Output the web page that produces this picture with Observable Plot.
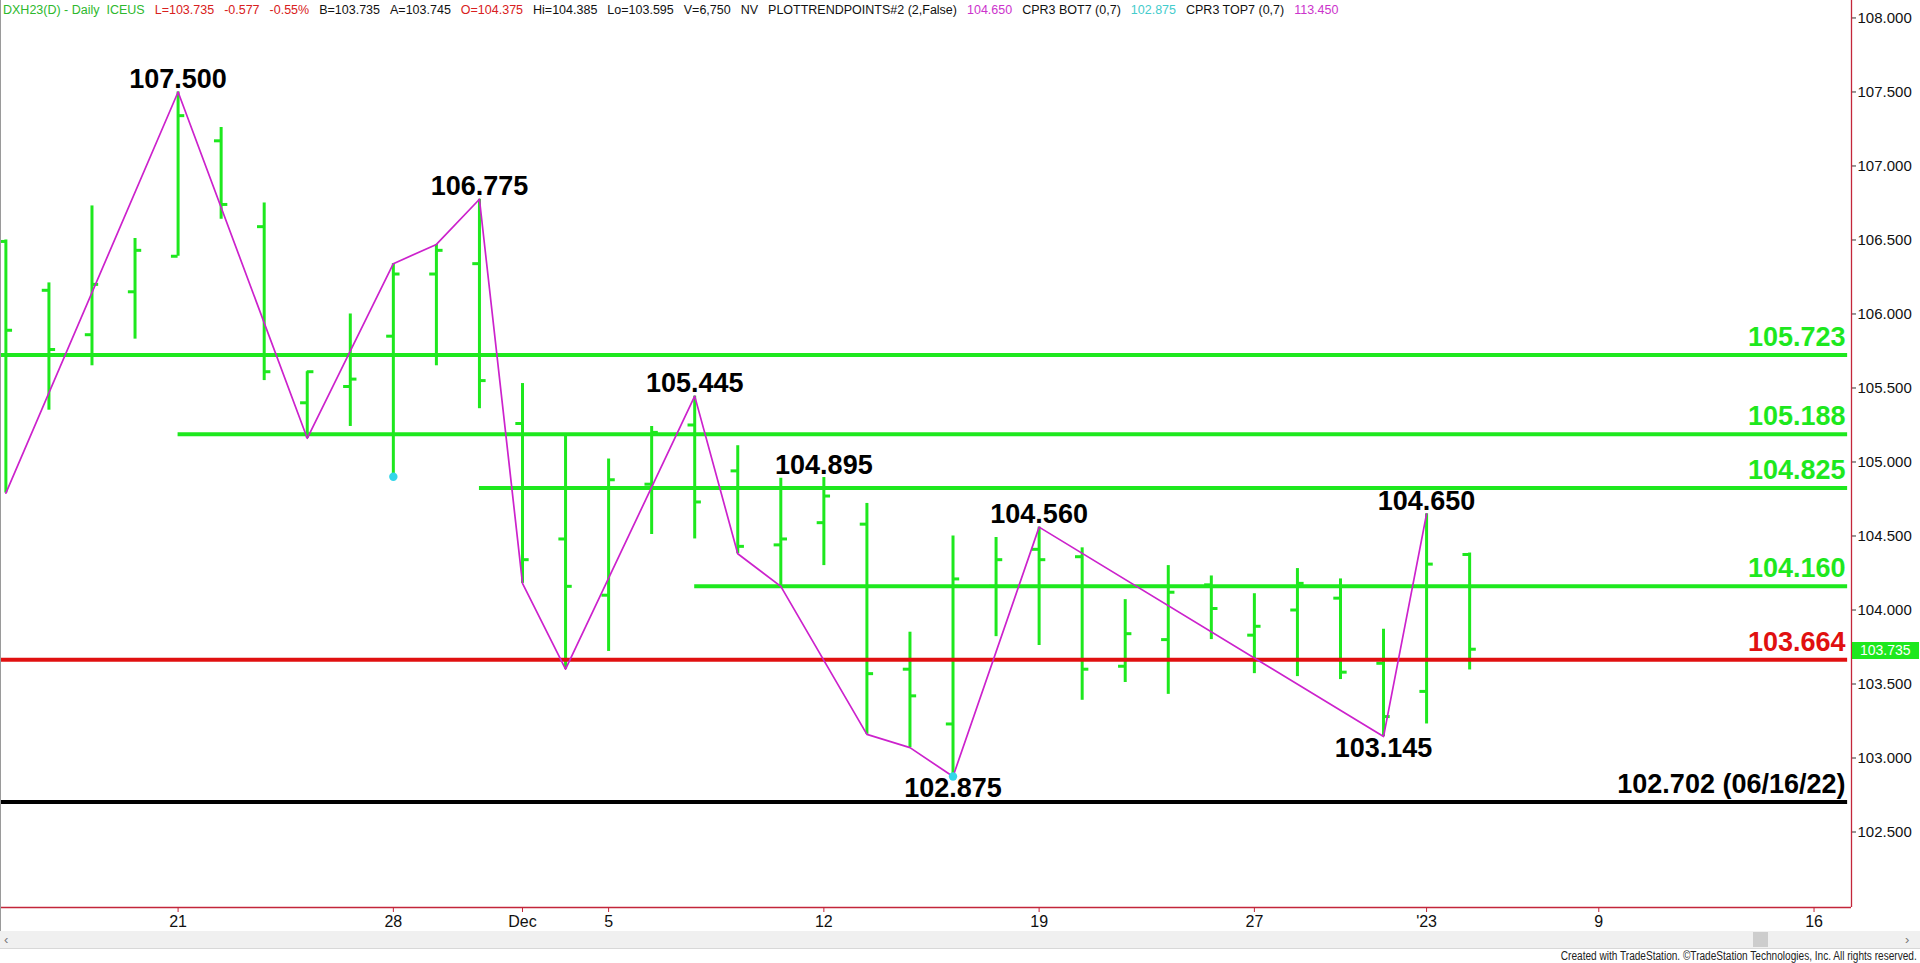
<!DOCTYPE html>
<html>
<head>
<meta charset="utf-8">
<script src="https://cdn.jsdelivr.net/npm/d3@7"></script>
<script src="https://cdn.jsdelivr.net/npm/@observablehq/plot@0.6"></script>
<style>
  html, body { margin: 0; padding: 0; background: #fff; overflow: hidden; }
  #wrap { position: relative; width: 1920px; height: 963px; font-family: Arial, "Liberation Sans", sans-serif; }
  #wrap svg { position: absolute; left: 0; top: 0; }
  #hdr { position: absolute; left: 3px; top: 3px; display: flex; gap: 10px; font-size: 12.5px; line-height: 14px; white-space: pre; }
  #scroll { position: absolute; left: 0; top: 931px; width: 1920px; height: 17px; background: #f0f0f0; border-bottom: 1px solid #d8d8d8; }
  #thumb { position: absolute; top: 1px; height: 15px; background: #cdcdcd; }
  .arrow { position: absolute; top: 0px; font-size: 13px; color: #777; line-height: 17px; }
  #foot { position: absolute; right: 3px; top: 950px; font-size: 12px; line-height: 13px; color: #222; white-space: nowrap; transform: scaleX(0.84); transform-origin: right center; }
  #leftborder { position: absolute; left: 0; top: 0; width: 1px; height: 949px; background: #9a9a9a; }
  #lasttag { position: absolute; color: #fff; background: #1ee81e; font-size: 14px; line-height: 17px; height: 17px; padding-left: 8px; box-sizing: border-box; }
</style>
</head>
<body>
<div id="wrap"></div>
<script>
// ---------------- DATA ----------------
const dates = ["2022-11-15","2022-11-16","2022-11-17","2022-11-18","2022-11-21","2022-11-22","2022-11-23","2022-11-24","2022-11-25","2022-11-28","2022-11-29","2022-11-30","2022-12-01","2022-12-02","2022-12-05","2022-12-06","2022-12-07","2022-12-08","2022-12-09","2022-12-12","2022-12-13","2022-12-14","2022-12-15","2022-12-16","2022-12-19","2022-12-20","2022-12-21","2022-12-22","2022-12-23","2022-12-27","2022-12-28","2022-12-29","2022-12-30","2023-01-03","2023-01-04","2023-01-05","2023-01-06","2023-01-09","2023-01-10","2023-01-11","2023-01-12","2023-01-13","2023-01-16","2023-01-17"];

const openP  = [106.49,106.16,105.86,106.15,106.39,107.17,106.59,105.40,105.51,105.85,106.27,106.34,105.26,104.48,104.10,104.85,105.25,104.94,104.44,104.59,104.58,103.60,103.23,104.16,104.41,104.36,103.62,103.80,104.17,103.83,104.00,104.08,103.64,103.45,104.375];
const highP  = [106.50,106.21,106.73,106.51,107.50,107.26,106.75,105.61,106.00,106.34,106.47,106.775,105.53,105.18,105.02,105.24,105.445,105.11,104.89,104.895,104.72,103.85,104.50,104.49,104.56,104.42,104.07,104.30,104.23,104.11,104.28,104.21,103.87,104.65,104.385];
const lowP   = [104.79,105.35,105.65,105.83,106.39,106.64,105.55,105.16,105.24,104.92,105.65,105.36,104.18,103.60,103.72,104.51,104.48,104.38,104.16,104.30,103.16,103.07,102.875,103.82,103.76,103.39,103.51,103.43,103.80,103.57,103.55,103.53,103.145,103.23,103.595];
const closeP = [105.89,105.76,106.20,106.43,107.34,106.74,105.61,105.61,105.56,106.27,106.43,105.55,104.34,104.16,104.88,105.20,104.73,104.43,104.48,104.77,103.57,103.42,104.21,104.34,104.34,103.60,103.84,104.12,104.01,103.89,104.18,103.58,103.28,104.31,103.735];

const xTickDates  = ["2022-11-21","2022-11-28","2022-12-01","2022-12-05","2022-12-12","2022-12-19","2022-12-27","2023-01-03","2023-01-09","2023-01-16"];
const xTickLabels = ["21","28","Dec","5","12","19","27","'23","9","16"];
const yTicks = [102.5,103.0,103.5,104.0,104.5,105.0,105.5,106.0,106.5,107.0,107.5,108.0];

const levelValues = [105.723,105.188,104.825,104.160,103.664,102.702];
const levelLabels = ["105.723","105.188","104.825","104.160","103.664","102.702 (06/16/22)"];
const levelStartDates = [null,"2022-11-21","2022-11-30","2022-12-07",null,null];
const levelKinds = ["level","level","level","level","pivot","priorLow"];

const trendDates  = ["2022-11-15","2022-11-21","2022-11-24","2022-11-28","2022-11-29","2022-11-30","2022-12-01","2022-12-02","2022-12-07","2022-12-08","2022-12-09","2022-12-13","2022-12-14","2022-12-15","2022-12-19","2022-12-30","2023-01-03"];
const trendValues = [104.79,107.50,105.16,106.34,106.47,106.775,104.18,103.60,105.445,104.38,104.16,103.16,103.07,102.875,104.56,103.145,104.65];

const pivotLabelDates  = ["2022-11-21","2022-11-30","2022-12-07","2022-12-12","2022-12-15","2022-12-19","2022-12-30","2023-01-03"];
const pivotLabelValues = [107.500,106.775,105.445,104.895,102.875,104.560,103.145,104.650];
const pivotLabelTypes  = ["high","high","high","high","low","high","low","high"];

const dotDates  = ["2022-11-28","2022-12-15"];
const dotValues = [104.90,102.875];

const headerTexts = ["DXH23(D) - Daily  ICEUS","L=103.735","-0.577","-0.55%","B=103.735","A=103.745","O=104.375","Hi=104.385","Lo=103.595","V=6,750","NV","PLOTTRENDPOINTS#2 (2,False)","104.650","CPR3 BOT7 (0,7)","102.875","CPR3 TOP7 (0,7)","113.450"];
const headerKinds = ["sym","down","down","down","plain","plain","down","plain","plain","plain","plain","plain","trend","plain","cyan","plain","trend"];

// ---------------- STYLE / LAYOUT ----------------
const GREEN = "#1ee81e", RED = "#e01010", BLACK = "#000", MAGENTA = "#cc22cc", CYAN = "#33d6e8", AXIS = "#c3263a";
const kindColor = {level: GREEN, pivot: RED, priorLow: BLACK};
const hdrColor = {sym: "#2db82d", down: "#d82020", plain: "#111", trend: "#cc33cc", cyan: "#44cccc"};
const idx = d => dates.indexOf(d);
const X0 = -0.125, X1 = 42.87;           // visible trading-day window
const Y0 = 101.99, Y1 = 108.118;         // visible price window
const TICK = 0.155;                      // open/close tick length in bars
const fmt = d3.format(".3f");

const bars = openP.map((o, i) => ({i, o, h: highP[i], l: lowP[i], c: closeP[i]}));
const levels = levelValues.map((v, k) => ({v, label: levelLabels[k], start: levelStartDates[k] ? idx(levelStartDates[k]) : X0, color: kindColor[levelKinds[k]]}));
const trend = trendDates.map((d, k) => ({i: idx(d), v: trendValues[k]}));
const pivLabels = pivotLabelDates.map((d, k) => ({i: idx(d), v: pivotLabelValues[k], t: pivotLabelTypes[k]}));
const dots = dotDates.map((d, k) => ({i: idx(d), v: dotValues[k]}));
const xTickIdx = xTickDates.map(idx);

const chart = Plot.plot({
  width: 1920, height: 963,
  marginTop: 0, marginLeft: 0, marginRight: 69, marginBottom: 56,
  x: {type: "linear", domain: [X0, X1]},
  y: {domain: [Y0, Y1]},
  color: {type: "identity"},
  style: {fontFamily: "Arial, 'Liberation Sans', sans-serif", background: "white"},
  marks: [
    // OHLC bars
    Plot.ruleX(bars, {x: "i", y1: "l", y2: "h", stroke: GREEN, strokeWidth: 3}),
    Plot.ruleY(bars, {x1: d => d.i - TICK, x2: "i", y: "o", stroke: GREEN, strokeWidth: 3}),
    Plot.ruleY(bars, {x1: "i", x2: d => d.i + TICK, y: "c", stroke: GREEN, strokeWidth: 3}),
    // horizontal levels
    Plot.ruleY(levels, {y: "v", x1: "start", x2: X1 - 0.09, stroke: "color", strokeWidth: 4}),
    Plot.text(levels, {y: "v", text: "label", frameAnchor: "right", dx: -6, dy: -9, textAnchor: "end", lineAnchor: "bottom", fontSize: 27, fontWeight: "bold", fill: "color"}),
    // trend-point zigzag
    Plot.line(trend, {x: "i", y: "v", stroke: MAGENTA, strokeWidth: 1.7}),
    Plot.dot(dots, {x: "i", y: "v", r: 4.2, fill: CYAN, stroke: "none"}),
    // pivot labels
    Plot.text(pivLabels.filter(d => d.t === "high"), {x: "i", y: "v", text: d => fmt(d.v), lineAnchor: "bottom", dy: -4, fontSize: 27, fontWeight: "bold", fill: BLACK}),
    Plot.text(pivLabels.filter(d => d.t === "low"), {x: "i", y: "v", text: d => fmt(d.v), lineAnchor: "bottom", dy: 20, fontSize: 27, fontWeight: "bold", fill: BLACK}),
    // axes
    Plot.axisY({anchor: "right", ticks: yTicks, tickFormat: fmt, tickSize: 4, tickPadding: 2, fontSize: 15, stroke: "#333", fill: "#111"}),
    Plot.axisX({anchor: "bottom", ticks: xTickIdx, tickFormat: v => xTickLabels[xTickIdx.indexOf(v)], tickSize: 5, tickPadding: 3, fontSize: 16, stroke: AXIS, fill: "#111"}),
    Plot.ruleX([X1], {stroke: AXIS, strokeWidth: 1.3}),
    Plot.ruleY([Y0], {stroke: AXIS, strokeWidth: 1.3})
  ]
});

const wrap = document.getElementById("wrap");
wrap.appendChild(chart);

// header
const hdr = document.createElement("div");
hdr.id = "hdr";
headerTexts.forEach((t, k) => {
  const s = document.createElement("span");
  s.textContent = t;
  s.style.color = hdrColor[headerKinds[k]];
  hdr.appendChild(s);
});
wrap.appendChild(hdr);

// last price tag positioned with the chart's scales
const yS = chart.scale("y"), xS = chart.scale("x");
const last = closeP[closeP.length - 1];
const tag = document.createElement("div");
tag.id = "lasttag";
tag.textContent = fmt(last);
const ax = xS.apply(X1);
tag.style.left = (ax + 1) + "px";
tag.style.width = (1920 - ax - 2) + "px";
tag.style.top = (yS.apply(last) - 7) + "px";
wrap.appendChild(tag);

// chrome: left border, scrollbar, footer
const lb = document.createElement("div"); lb.id = "leftborder"; wrap.appendChild(lb);
const sc = document.createElement("div"); sc.id = "scroll";
sc.innerHTML = '<span class="arrow" style="left:4px">&lsaquo;</span><div id="thumb" style="left:1753px;width:15px"></div><span class="arrow" style="left:1905px">&rsaquo;</span>';
wrap.appendChild(sc);
const ft = document.createElement("div"); ft.id = "foot";
ft.textContent = "Created with TradeStation. \u00A9TradeStation Technologies, Inc. All rights reserved.";
wrap.appendChild(ft);
</script>
</body>
</html>
